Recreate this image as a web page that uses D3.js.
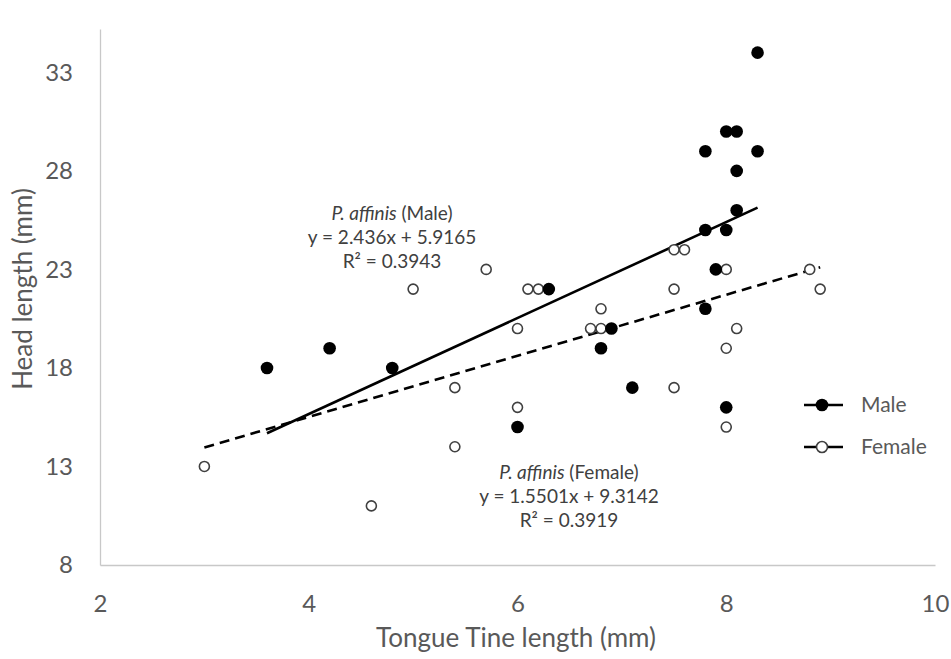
<!DOCTYPE html>
<html>
<head>
<meta charset="utf-8">
<script src="https://cdn.jsdelivr.net/npm/d3@7"></script>
<style>
  html, body { margin: 0; padding: 0; background: #fff; }
  svg { display: block; font-family: Lato, "Open Sans", sans-serif; }
</style>
</head>
<body>
<svg id="chart" width="951" height="659"></svg>
<script>
// ---- Data ----
const maleX   = [8.3, 8.0, 8.1, 7.8, 8.3, 8.1, 8.1, 7.8, 8.0, 7.9, 6.3, 7.8, 6.9, 6.8, 7.1, 8.0, 6.0, 3.6, 4.2, 4.8];
const maleY   = [34, 30, 30, 29, 29, 28, 26, 25, 25, 23, 22, 21, 20, 19, 17, 16, 15, 18, 19, 18];
const femaleX = [8.0, 7.5, 7.6, 5.7, 8.8, 6.1, 6.2, 7.5, 8.9, 6.8, 6.0, 6.7, 6.8, 8.1, 8.0, 7.5, 6.0, 8.0, 5.0, 5.4, 5.4, 3.0, 4.6];
const femaleY = [23, 24, 24, 23, 23, 22, 22, 22, 22, 21, 20, 20, 20, 20, 19, 17, 16, 15, 22, 17, 14, 13, 11];
const maleFit   = [2.436, 5.9165];   // slope, intercept
const femaleFit = [1.5501, 9.3142];
const xTicks = [2, 4, 6, 8, 10];
const yTicks = [8, 13, 18, 23, 28, 33];
const seriesNames = ["Male", "Female"];
const maleLabel   = ["P. affinis", " (Male)", "y = 2.436x + 5.9165", "R² = 0.3943"];
const femaleLabel = ["P. affinis", " (Female)", "y = 1.5501x + 9.3142", "R² = 0.3919"];

// ---- Scales ----
const svg = d3.select("#chart");
const x = d3.scaleLinear().domain([2, 10]).range([100, 935]);
const y = d3.scaleLinear().domain([8, 35.2]).range([565, 29]);

// ---- Axes ----
const xAxis = svg.append("g").attr("transform", "translate(0,565)")
  .call(d3.axisBottom(x).tickValues(xTicks).tickSize(0).tickPadding(30).tickFormat(d3.format("d")));
const yAxis = svg.append("g").attr("transform", "translate(100,0)")
  .call(d3.axisLeft(y).tickValues(yTicks).tickSize(0).tickPadding(27).tickFormat(d3.format("d")));
[xAxis, yAxis].forEach(g => {
  g.select(".domain").attr("stroke", "#c8c8c8").attr("stroke-width", 1.3);
  g.selectAll("text").attr("fill", "#595959").style("font-size", "24px").style("font-family", "Lato, sans-serif");
});

// Axis titles
svg.append("text").attr("x", 516).attr("y", 647).attr("text-anchor", "middle")
  .attr("fill", "#595959").style("font-size", "26px").text("Tongue Tine length (mm)");
svg.append("text").attr("transform", "translate(32,289) rotate(-90)").attr("text-anchor", "middle")
  .attr("fill", "#595959").style("font-size", "26px").text("Head length (mm)");

// ---- Trend lines ----
function fitLine(xs, fit) {
  const [x0, x1] = d3.extent(xs);
  return [[x0, fit[0] * x0 + fit[1]], [x1, fit[0] * x1 + fit[1]]];
}
const line = d3.line().x(d => x(d[0])).y(d => y(d[1]));
svg.append("path").datum(fitLine(femaleX, femaleFit)).attr("d", line)
  .attr("fill", "none").attr("stroke", "#000").attr("stroke-width", 2.6).attr("stroke-dasharray", "10,6");
svg.append("path").datum(fitLine(maleX, maleFit)).attr("d", line)
  .attr("fill", "none").attr("stroke", "#000").attr("stroke-width", 2.6);

// ---- Points ----
const male = maleX.map((v, i) => [v, maleY[i]]);
const female = femaleX.map((v, i) => [v, femaleY[i]]);
svg.append("g").selectAll("circle").data(female).join("circle")
  .attr("cx", d => x(d[0])).attr("cy", d => y(d[1])).attr("r", 5)
  .attr("fill", "#fff").attr("stroke", "#404040").attr("stroke-width", 1.6);
svg.append("g").selectAll("circle").data(male).join("circle")
  .attr("cx", d => x(d[0])).attr("cy", d => y(d[1])).attr("r", 6.3)
  .attr("fill", "#000");

// ---- Annotations ----
function annot(lbl, cx, y0) {
  const t1 = svg.append("text").attr("x", cx).attr("y", y0).attr("text-anchor", "middle")
    .attr("fill", "#404040").style("font-size", "19px").style("font-family", "Lato, sans-serif");
  t1.append("tspan").style("font-style", "italic").text(lbl[0]);
  t1.append("tspan").text(lbl[1]);
  svg.append("text").attr("x", cx).attr("y", y0 + 24).attr("text-anchor", "middle")
    .attr("fill", "#404040").style("font-size", "19px").text(lbl[2]);
  svg.append("text").attr("x", cx).attr("y", y0 + 48).attr("text-anchor", "middle")
    .attr("fill", "#404040").style("font-size", "19px").text(lbl[3]);
}
annot(maleLabel, 392, 220);
annot(femaleLabel, 569, 479);

// ---- Legend ----
const legY = [405, 447];
seriesNames.forEach((name, i) => {
  const g = svg.append("g");
  g.append("line").attr("x1", 804).attr("x2", 843).attr("y1", legY[i]).attr("y2", legY[i])
    .attr("stroke", "#000").attr("stroke-width", 2.6);
  if (i === 0) {
    g.append("circle").attr("cx", 822).attr("cy", legY[i]).attr("r", 6.3).attr("fill", "#000");
  } else {
    g.append("circle").attr("cx", 822).attr("cy", legY[i]).attr("r", 5.5)
      .attr("fill", "#fff").attr("stroke", "#404040").attr("stroke-width", 1.6);
  }
  g.append("text").attr("x", 861).attr("y", legY[i] + 7).attr("fill", "#595959")
    .style("font-size", "21px").text(name);
});
</script>
</body>
</html>
